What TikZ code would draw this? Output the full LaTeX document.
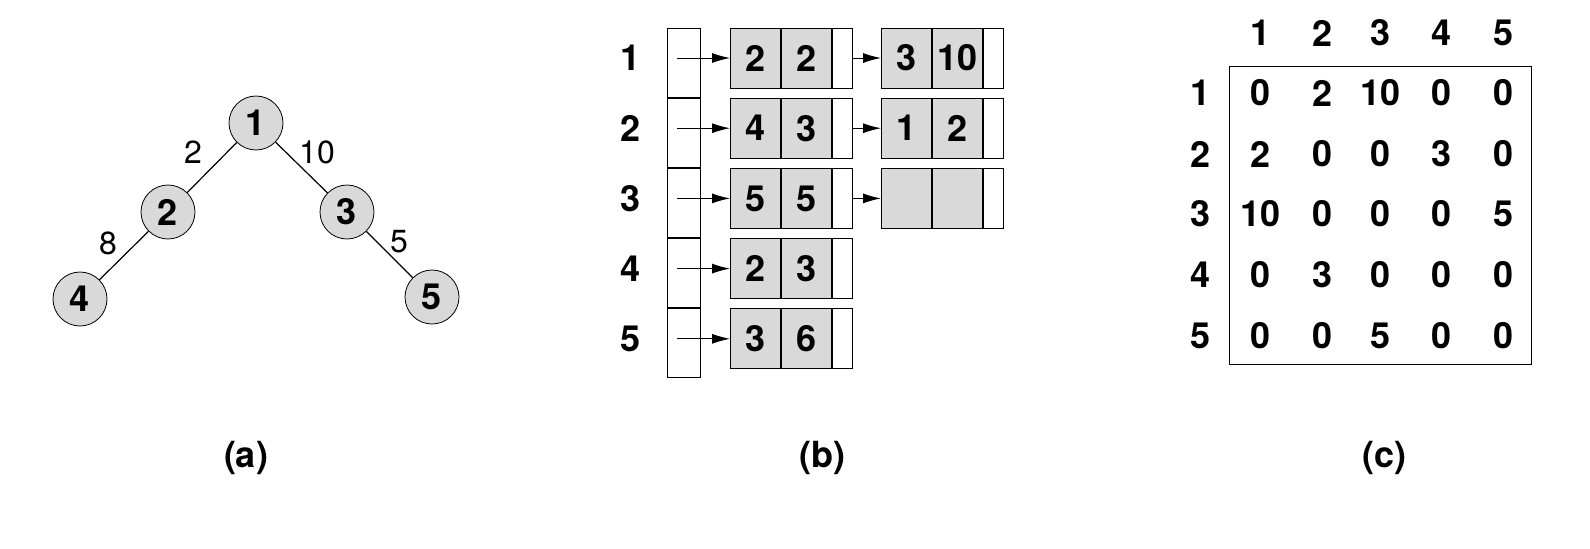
\documentclass[tikz,border=0pt]{standalone}
\usepackage{fontspec}
\setmainfont{TeX Gyre Heros}
\usetikzlibrary{arrows.meta}
\definecolor{cellgray}{HTML}{D9D9D9}
\tikzset{
  vert/.style={circle,draw,fill=cellgray,minimum size=27pt,inner sep=0pt,font=\bfseries\fontsize{18}{18}\selectfont},
  elab/.style={font=\fontsize{16}{16}\selectfont},
  big/.style={font=\bfseries\fontsize{18}{18}\selectfont},
  gcell/.style={draw,fill=cellgray,minimum width=25pt,minimum height=30pt,inner sep=0pt,anchor=west,font=\bfseries\fontsize{18}{18}\selectfont},
  pcell/.style={draw,fill=white,minimum width=10pt,minimum height=30pt,inner sep=0pt,anchor=west},
  acell/.style={draw,minimum width=16.5pt,minimum height=34.5pt,inner sep=0pt},
  arr/.style={-{Latex[length=9pt,width=5pt]},line width=0.5pt},
}
\begin{document}
\begin{tikzpicture}[x=0.5pt,y=-0.5pt]
\useasboundingbox (0,0) rectangle (1590,548);
% (a) tree
\node[vert] (n1) at (256,123) {1};
\node[vert] (n2) at (168,212) {2};
\node[vert] (n3) at (347,212) {3};
\node[vert] (n4) at (80,299) {4};
\node[vert] (n5) at (432,297) {5};
\draw[line width=0.6pt] (n1)--(n2) (n1)--(n3) (n2)--(n4) (n3)--(n5);
\node[elab] (l12) at (193,152) {2};
\node[elab] (l13) at (317,152) {10};
\node[elab] (l24) at (108,243) {8};
\node[elab] (l35) at (399,242) {5};
\node[big] (ca) at (246,458) {(a)};
% (b) adjacency lists
\foreach \i/\a/\b in {1/2/2,2/4/3,3/5/5,4/2/3,5/3/6}{
  \pgfmathsetmacro{\yy}{28+(\i-1)*70.2}
  \pgfmathsetmacro{\yc}{58+(\i-1)*70.2}
  \node[acell] (arr\i) at (683.5,\yy+34.5) {};
  \node[big] (rl\i) at (630,\yc) {\i};
  \node[gcell] (p\i a) at (730,\yc) {\a};
  \node[gcell] (p\i b) at (p\i a.east) {\b};
  \node[pcell] (p\i c) at (p\i b.east) {};
  \coordinate (s\i) at (677,\yc);
  \draw[arr] (s\i) -- (p\i a.west);
}
\node[gcell] (q1a) at (881,58) {3};
\node[gcell] (q1b) at (q1a.east) {10};
\node[pcell] (q1c) at (q1b.east) {};
\node[gcell] (q2a) at (881,128.2) {1};
\node[gcell] (q2b) at (q2a.east) {2};
\node[pcell] (q2c) at (q2b.east) {};
\node[gcell] (q3a) at (881,198.4) {};
\node[gcell] (q3b) at (q3a.east) {};
\node[pcell] (q3c) at (q3b.east) {};
\foreach \i in {1,2,3}{\draw[arr] (p\i c.east) -- (q\i a.west);}
\node[big] (cb) at (822,458) {(b)};
% (c) matrix
\node[draw,minimum width=151pt,minimum height=149pt,inner sep=0pt] (mat) at (1380,215) {};
\foreach \j/\x in {1/1260,2/1322,3/1380,4/1441,5/1503}{\node[big] (h\j) at (\x,33) {\j};}
\foreach \i/\y in {1/93,2/154,3/214,4/275,5/336}{\node[big] (r\i) at (1200,\y) {\i};}
\foreach \i/\y/\row in {1/93/{0,2,10,0,0},2/154/{2,0,0,3,0},3/214/{10,0,0,0,5},4/275/{0,3,0,0,0},5/336/{0,0,5,0,0}}{
  \foreach \v [count=\j] in \row {
    \pgfmathsetmacro{\xx}{{1260,1322,1380,1441,1503}[\j-1]}
    \node[big] (m\i\j) at (\xx,\y) {\v};
  }
}
\node[big] (cc) at (1384,458) {(c)};
\end{tikzpicture}
\end{document}
